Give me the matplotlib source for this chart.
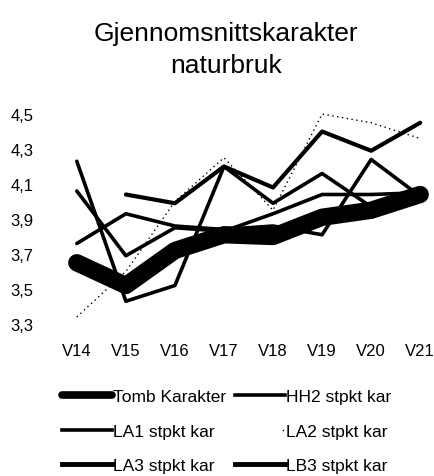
import matplotlib
matplotlib.use("Agg")
import matplotlib.pyplot as plt
import numpy as np
from matplotlib.lines import Line2D

# data
years = ["V14", "V15", "V16", "V17", "V18", "V19", "V20", "V21"]
tomb = [3.65, 3.52, 3.72, 3.81, 3.80, 3.91, 3.95, 4.04]
hh2 = [np.nan, 4.04, 3.99, 4.20, 4.08, 4.40, 4.29, 4.45]
la1 = [4.23, 3.43, 3.52, 4.20, 3.99, 4.16, 3.97, 4.05]
la2 = [3.34, 3.60, 4.00, 4.25, 3.95, 4.50, 4.45, 4.36]
la3 = [4.06, 3.69, 3.85, 3.83, 3.93, 4.04, 4.04, 4.05]
lb3 = [3.76, 3.93, 3.86, 3.84, 3.86, 3.81, 4.24, 4.03]
labels = ["Tomb Karakter", "HH2 stpkt kar", "LA1 stpkt kar", "LA2 stpkt kar", "LA3 stpkt kar", "LB3 stpkt kar"]
yticks = [3.3, 3.5, 3.7, 3.9, 4.1, 4.3, 4.5]

plt.rcParams["font.family"] = ["Liberation Sans", "DejaVu Sans"]

W, H = 434, 477
fig = plt.figure(figsize=(W / 100, H / 100), dpi=100)

# axes box in pixels: x from 67 to 430, y from 115 (top) to 325 (bottom)
ax = fig.add_axes([67 / W, 1 - 325 / H, (430 - 67) / W, (325 - 115) / H])

x = np.arange(len(years))
common = dict(color="black", solid_capstyle="round", solid_joinstyle="round", clip_on=False)
ax.plot(x, la2, color="black", lw=1.0, linestyle=(0, (1, 2.5)), clip_on=False)
ax.plot(x, hh2, lw=3.0, **common)
ax.plot(x, la1, lw=2.6, **common)
ax.plot(x, la3, lw=2.6, **common)
ax.plot(x, lb3, lw=2.6, **common)
ax.plot(x, tomb, lw=12.5, **common)

ax.set_xlim(-0.2, 7.2)
ax.set_ylim(3.3, 4.5)
ax.set_xticks(x)
ax.set_xticklabels(years)
ax.set_yticks(yticks)
ax.set_yticklabels([f"{v:.1f}".replace(".", ",") for v in yticks])
ax.tick_params(axis="y", length=0, pad=24, labelsize=12)
ax.tick_params(axis="x", length=0, pad=14, labelsize=12)
for s in ax.spines.values():
    s.set_visible(False)

fig.text(226 / W, 1 - 50 / H, "Gjennomsnittskarakter\nnaturbruk", ha="center", va="center",
         fontsize=19, linespacing=1.45)

handles = [
    Line2D([], [], color="black", lw=5.5, solid_capstyle="round"),
    Line2D([], [], color="black", lw=2.6),
    Line2D([], [], color="black", lw=2.6),
    Line2D([], [], color="black", lw=1.0, linestyle=(7, (1, 40))),
    Line2D([], [], color="black", lw=3.5),
    Line2D([], [], color="black", lw=3.5),
]
# matplotlib fills legend columns first; reorder so it reads row by row
order = [0, 2, 4, 1, 3, 5]
fig.legend([handles[i] for i in order], [labels[i] for i in order], ncol=2, loc="upper left",
           bbox_to_anchor=(62 / W, 1 - 390 / H),
           frameon=False, borderpad=0, borderaxespad=0, handlelength=2.9, handletextpad=0.05,
           columnspacing=0.5, labelspacing=1.12, fontsize=12.5)

fig.savefig("out.png", dpi=100)
